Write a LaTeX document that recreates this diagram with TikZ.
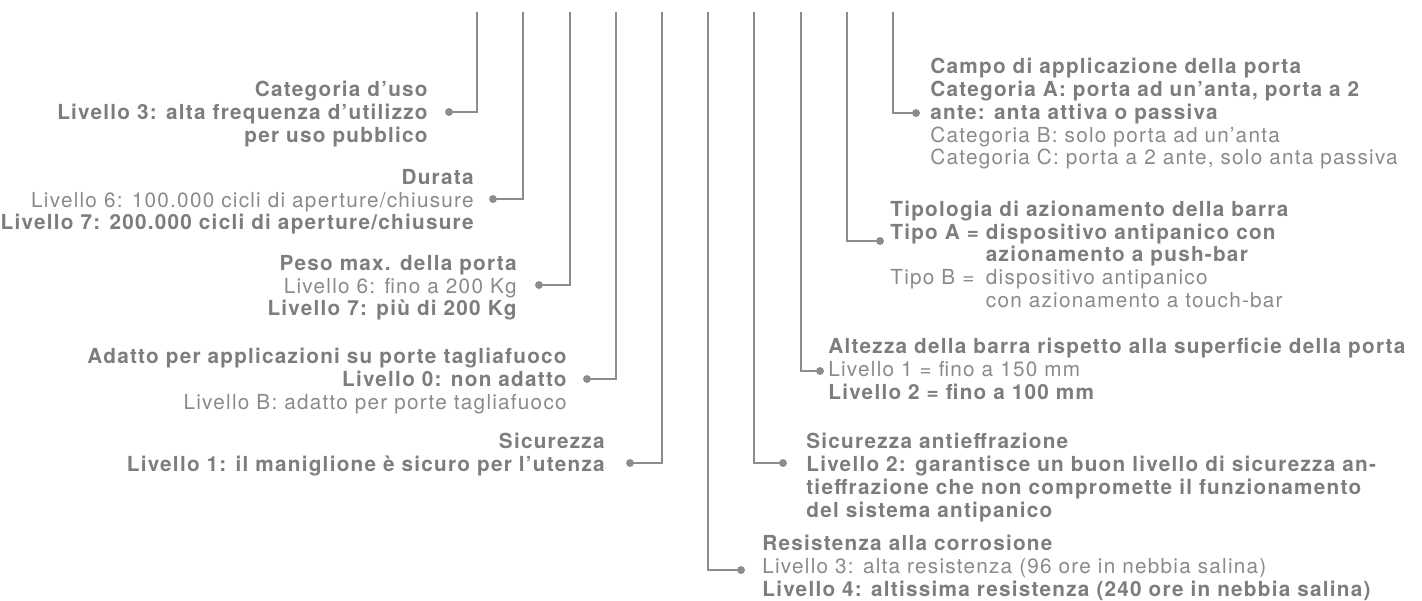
\documentclass[tikz,border=0pt]{standalone}
\usepackage{fontspec}
\setmainfont{TeX Gyre Heros}[LetterSpace=6]
\usepackage{tikz}
\usetikzlibrary{positioning}

\definecolor{txtcol}{RGB}{125,125,125}
\definecolor{lgtcol}{RGB}{138,138,138}
\definecolor{lncol}{RGB}{140,140,140}
\newcommand\txtsize{\fontsize{11.8pt}{12.95pt}\selectfont}
\newcommand\bt[1]{{\bfseries\color{txtcol}#1}}

\begin{document}
\begin{tikzpicture}[x=0.02cm, y=-0.02cm,
      ln/.style={draw=lncol, line width=0.85pt},
      dt/.style={circle, fill=lncol, inner sep=0pt, minimum size=4.5pt},
      lt/.style={font=\txtsize, text=lgtcol, align=right, anchor=north east, inner sep=0pt},
      rt/.style={font=\txtsize, text=lgtcol, align=left, anchor=north west, inner sep=0pt}]
  \useasboundingbox (0,0) rectangle (1422,600);
  % tops of the leader lines
  \foreach \i/\x in {1/477,2/523,3/570,4/616,5/662,6/708,7/754,8/801,9/847,10/893}
    \coordinate (t\i) at (\x,12);
  % dots
  \node[dt] (d1) at (449,112) {}; \node[dt] (d2) at (493,199) {};
  \node[dt] (d3) at (539,285) {}; \node[dt] (d4) at (587,379) {};
  \node[dt] (d5) at (630,463) {}; \node[dt] (d6) at (741,570) {};
  \node[dt] (d7) at (783,463) {}; \node[dt] (d8) at (820,371) {};
  \node[dt] (d9) at (880,241) {}; \node[dt] (d10) at (916,113) {};
  \foreach \i in {1,...,10}
    \draw[ln] (t\i) |- (d\i.center);
  % left side
  \node[lt] (cat) at (428,81) {\bt{Categoria d’uso}\\\bt{Livello 3: alta frequenza d’utilizzo}\\\bt{per uso pubblico}};
  \node[lt] (dur) at (474,169) {\bt{Durata}\\Livello 6: 100.000 cicli di aperture/chiusure\\\bt{Livello 7: 200.000 cicli di aperture/chiusure}};
  \node[lt] (peso) at (517,255) {\bt{Peso max. della porta}\\Livello 6: fino a 200 Kg\\\bt{Livello 7: più di 200 Kg}};
  \node[lt] (fuoco) at (567,348) {\bt{Adatto per applicazioni su porte tagliafuoco}\\\bt{Livello 0: non adatto}\\Livello B: adatto per porte tagliafuoco};
  \node[lt] (sic) at (605,433) {\bt{Sicurezza}\\\bt{Livello 1: il maniglione è sicuro per l’utenza}};
  % right side
  \node[rt] (campo) at (930,58) {\bt{Campo di applicazione della porta}\\\bt{Categoria A: porta ad un’anta, porta a 2}\\\bt{ante: anta attiva o passiva}\\Categoria B: solo porta ad un’anta\\Categoria C: porta a 2 ante, solo anta passiva};
  \node[rt] (tipo) at (890,200) {\begin{tabular}{@{}l@{ }l@{}}
      \multicolumn{2}{@{}l@{}}{\bt{Tipologia di azionamento della barra}}\\
      \bt{Tipo A =} & \bt{dispositivo antipanico con}\\
       & \bt{azionamento a push-bar}\\
      Tipo B = & dispositivo antipanico\\
       & con azionamento a touch-bar
    \end{tabular}};
  \node[rt] (alt) at (828,338) {\bt{Altezza della barra rispetto alla superficie della porta}\\Livello 1 = fino a 150 mm\\\bt{Livello 2 = fino a 100 mm}};
  \node[rt] (effr) at (806,433) {\bt{Sicurezza antieffrazione}\\\bt{Livello 2: garantisce un buon livello di sicurezza an-}\\\bt{tieffrazione che non compromette il funzionamento}\\\bt{del sistema antipanico}};
  \node[rt] (corr) at (762,535) {\bt{Resistenza alla corrosione}\\Livello 3: alta resistenza (96 ore in nebbia salina)\\\bt{Livello 4: altissima resistenza (240 ore in nebbia salina)}};
\end{tikzpicture}
\end{document}
